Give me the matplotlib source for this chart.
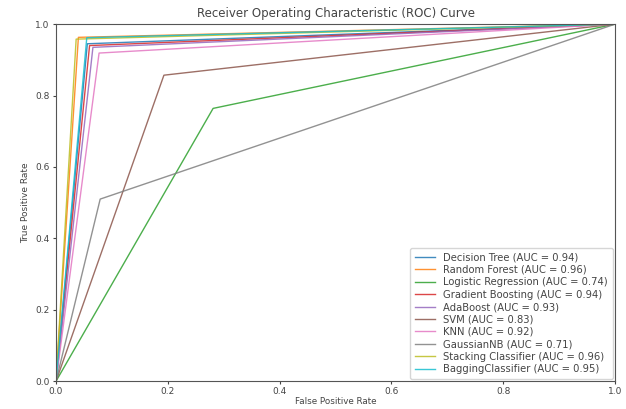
import numpy as np
import matplotlib.pyplot as plt

models = [
    "Decision Tree",
    "Random Forest",
    "Logistic Regression",
    "Gradient Boosting",
    "AdaBoost",
    "SVM",
    "KNN",
    "GaussianNB",
    "Stacking Classifier",
    "BaggingClassifier",
]

# single threshold point of each classifier (fpr, tpr)
fpr_pts = [0.056, 0.040, 0.281, 0.060, 0.066, 0.193, 0.077, 0.079, 0.036, 0.055]
tpr_pts = [0.945, 0.963, 0.764, 0.940, 0.935, 0.857, 0.919, 0.510, 0.958, 0.962]
auc_vals = [0.94, 0.96, 0.74, 0.94, 0.93, 0.83, 0.92, 0.71, 0.96, 0.95]

fig = plt.figure(figsize=(6.26, 4.09), dpi=100)
ax = fig.add_axes([0.0895, 0.068, 0.893, 0.873])

for name, f, t, auc in zip(models, fpr_pts, tpr_pts, auc_vals):
    ax.plot(
        [0, f, 1],
        [0, t, 1],
        linewidth=1,
        alpha=0.85,
        label=f"{name} (AUC = {auc:.2f})"
    )

ax.set_xlim(0, 1)
ax.set_ylim(0, 1)
ax.tick_params(labelsize=6.5, length=2.5, pad=2, colors="#444444")
for s in ax.spines.values():
    s.set_color("#555555")

ax.set_xlabel("False Positive Rate", fontsize=6.3, color="#444444", labelpad=0.5)
ax.set_ylabel("True Positive Rate", fontsize=6.5, color="#444444")
ax.set_title("Receiver Operating Characteristic (ROC) Curve", fontsize=8.5, color="#444444", pad=5)

ax.legend(
    loc="lower right",
    fontsize=7.2,
    labelcolor="#444444",
    handlelength=2.0,
    labelspacing=0.24,
    borderpad=0.5,
    borderaxespad=0.2
)

plt.savefig("out.png", dpi=100)
